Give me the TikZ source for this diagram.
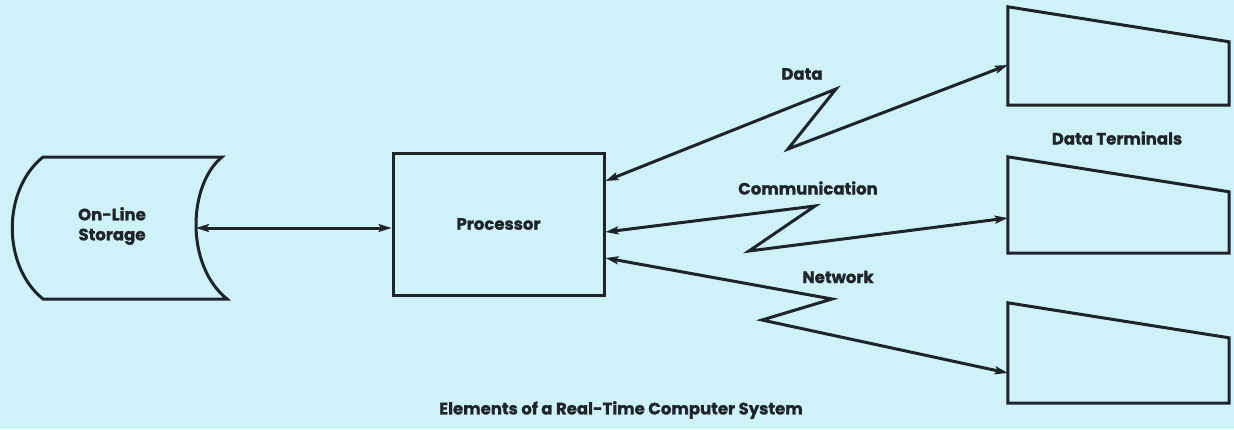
\documentclass[tikz,border=0pt]{standalone}
\usepackage{fontspec}
\setmainfont{Poppins}[BoldFeatures={FakeBold=1.2}]
\usetikzlibrary{arrows.meta,positioning}

\definecolor{paper}{RGB}{206,242,248}
\definecolor{ink}{RGB}{30,36,42}

\begin{document}
\begin{tikzpicture}[x=1pt, y=-1pt,
      lbl/.style={font=\bfseries\fontsize{16.5}{20}\selectfont, text=ink, align=center},
      box/.style={draw=ink, line width=3pt, minimum width=211pt, minimum height=142pt},
      outline/.style={draw=ink, line width=3pt, line join=miter},
      link/.style={outline, {Stealth[length=13pt,width=8pt,inset=2.5pt]}-{Stealth[length=13pt,width=8pt,inset=2.5pt]}},
      termbox/.style={minimum width=221pt, minimum height=#1, inner sep=0pt}
    ]
      \fill[paper] (0,0) rectangle (1234,429);
      \useasboundingbox (0,0) rectangle (1234,429);

      % storage drum and processor
      \node[lbl] (store) at (112,226) {On-Line\\Storage};
      \draw[outline] (43,157) -- (222,157) .. controls (188,185) and (185,265) .. (227,299)
        -- (43,299) .. controls (2,266) and (2,190) .. cycle;
      \coordinate (store-r) at (196,228);
      \node[box, lbl] (proc) at (498.5,224) {Processor};
      \draw[link] (store-r) -- (store-r -| proc.west);

      % terminals
      \node[termbox=98pt] (term1) at (1118.5,56) {};
      \node[termbox=96pt] (term2) at (1118.5,205) {};
      \node[termbox=100pt] (term3) at (1118.5,353) {};
      \foreach \t in {term1,term2,term3}
        \draw[outline] (\t.north west) -- ([yshift=-35pt]\t.north east)
          -- (\t.south east) -- (\t.south west) -- cycle;
      \node[lbl] (termlbl) at (1117,138) {Data Terminals};

      % zigzag links
      \coordinate (d1) at (836,89);
      \coordinate (d2) at (788,149);
      \coordinate (c1) at (815,206);
      \coordinate (c2) at (749,251);
      \coordinate (n1) at (832,299);
      \coordinate (n2) at (762,320);
      \draw[link] ([yshift=43pt]proc.east) -- (d1) -- (d2) -- ([yshift=-9pt]term1.west);
      \draw[link] ([yshift=-8pt]proc.east) -- (c1) -- (c2) -- ([yshift=-13pt]term2.west);
      \draw[link] ([yshift=-34pt]proc.east) -- (n1) -- (n2) -- ([yshift=-20pt]term3.west);

      \node[lbl] (data) at (802,74) {Data};
      \node[lbl] (comm) at (808,188) {Communication};
      \node[lbl] (net) at (838,277) {Network};

      \node[lbl] (caption) at (621,410) {Elements of a Real-Time Computer System};
    \end{tikzpicture}
\end{document}
